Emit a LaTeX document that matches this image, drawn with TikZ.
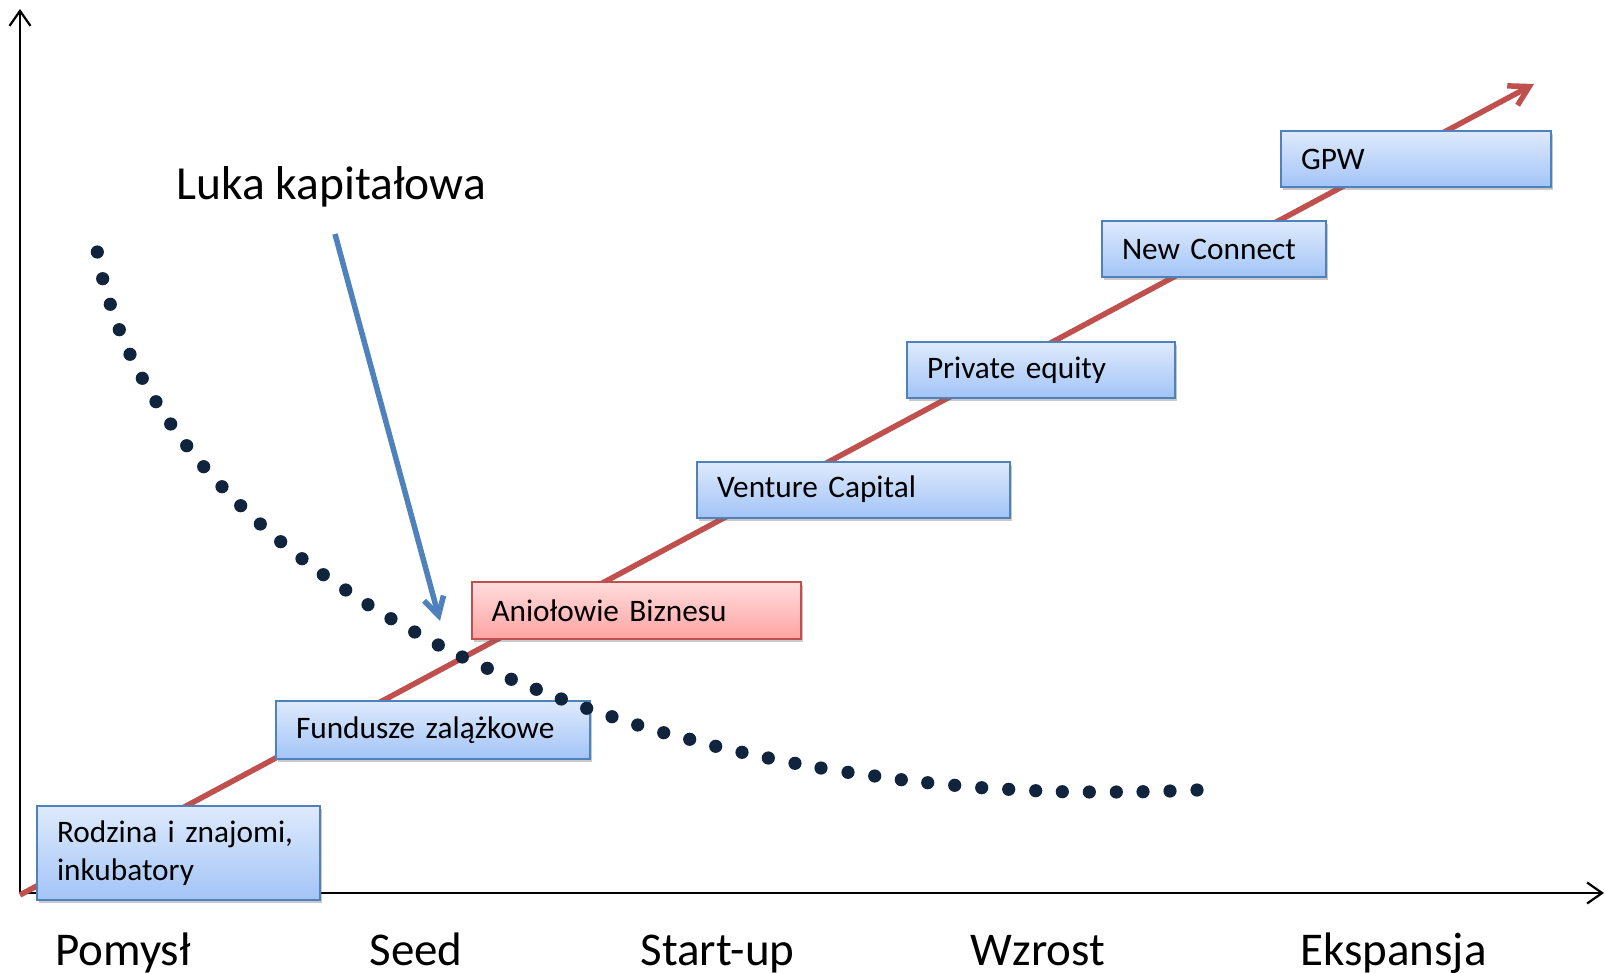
\documentclass[tikz,border=0pt]{standalone}
\usepackage{fontspec}
\setmainfont{Carlito}
\usetikzlibrary{arrows.meta,shadows}
\definecolor{boxblue}{RGB}{79,129,189}
\definecolor{redline}{RGB}{192,80,77}
\definecolor{dotnavy}{RGB}{16,36,62}
\definecolor{bluetop}{RGB}{222,234,252}
\definecolor{bluebot}{RGB}{163,196,247}
\definecolor{pinktop}{RGB}{255,220,220}
\definecolor{pinkbot}{RGB}{255,163,163}
\begin{document}
\begin{tikzpicture}[x=1pt,y=-1pt,
  axisline/.style={draw=black, line width=2.2pt, -{Straight Barb[length=15pt,width=21pt]}},
  redarrow/.style={draw=redline, line width=5.5pt, -{Straight Barb[length=19pt,width=22pt]}},
  bluearrow/.style={draw=boxblue, line width=5.5pt, -{Straight Barb[length=18pt,width=20pt]}},
  stagebox/.style={draw=boxblue, line width=2pt, top color=bluetop, bottom color=bluebot,
    drop shadow={shadow xshift=2pt,shadow yshift=-3pt,opacity=0.35,fill=black!60},
    anchor=north west, inner xsep=20pt, inner ysep=0pt, align=left,
    font=\fontsize{31.3}{37.5}\selectfont},
  pinkbox/.style={stagebox, draw=redline, top color=pinktop, bottom color=pinkbot},
  stagelabel/.style={anchor=base, font=\fontsize{47}{56}\selectfont},
  gapdot/.style={fill=dotnavy}
]
\useasboundingbox (0,0) rectangle (1605,973);
\fill[white] (0,0) rectangle (1605,973);

% axes
\coordinate (o) at (20,893);
\coordinate (ytop) at (20,9);
\coordinate (xend) at (1604,893);
\draw[axisline] (o) -- (ytop);
\draw[axisline] (o) -- (xend);

% red arrow
\coordinate (rs) at (20,895);
\coordinate (re) at (1534,84);
\draw[redarrow] (rs) -- (re);

% boxes
\node[stagebox, text width=243pt, minimum height=94pt] (rodzina) at (36,805) {Rodzina i znajomi,\\inkubatory};
\node[stagebox, text width=274pt, minimum height=58pt] (fund) at (275,700) {Fundusze zalążkowe};
\node[pinkbox, text width=289pt, minimum height=57pt] (aniol) at (470.5,581) {Aniołowie Biznesu};
\node[stagebox, text width=273pt, minimum height=56pt] (vc) at (696,460.5) {Venture Capital};
\node[stagebox, text width=228pt, minimum height=56pt] (pe) at (906,341) {Private equity};
\node[stagebox, text width=184pt, minimum height=56pt] (nc) at (1101,220) {New Connect};
\node[stagebox, text width=230pt, minimum height=56pt] (gpw) at (1280,130) {GPW};

% dotted curve (capital gap)
\foreach \dx/\dy in {
 97.3/252, 102.7/278.7, 110.3/304.3, 119.3/329.7, 130/354.3, 142.3/378.3,
 156/401.7, 170.7/424, 186.7/445.7, 203.7/466.7, 222/486.7, 240.7/505.7,
 260.3/524, 280.7/541.7, 302/558.7, 323.3/574.7, 345.7/590, 368/604.7,
 391/618.7, 414.7/632, 438.3/645, 462.3/657, 487.3/668.3, 511.3/679.3,
 536.3/689.3, 561.3/699, 586.7/708.3, 612/716.7, 637.7/725, 663.7/732.7,
 689.7/739.3, 715.7/746.3, 742/752.3, 768.3/758, 795/763.3, 821/768,
 848/772.3, 874.7/776, 901.3/779.7, 927.7/782.7, 954.7/785.3, 981.7/787.7,
 1008.7/789.3, 1035.7/790.7, 1062.3/791.7, 1089.3/792, 1116.3/792, 1143/791.7,
 1170/791, 1197/790}
 {\fill[gapdot] (\dx,\dy) circle (6.6pt);}

% gap label and arrow
\node[anchor=base west, font=\fontsize{47.5}{57}\selectfont] (luka) at (173,200) {Luka kapitałowa};
\coordinate (bs) at (335,234);
\coordinate (be) at (440,621);
\draw[bluearrow] (bs) -- (be);

% stage labels
\node[stagelabel] (pomysl) at (123,965) {Pomysł};
\node[stagelabel] (seed) at (416,965) {Seed};
\node[stagelabel] (startup) at (717.5,965) {Start-up};
\node[stagelabel] (wzrost) at (1038,965) {Wzrost};
\node[stagelabel] (eksp) at (1393.5,965) {Ekspansja};
\end{tikzpicture}
\end{document}
